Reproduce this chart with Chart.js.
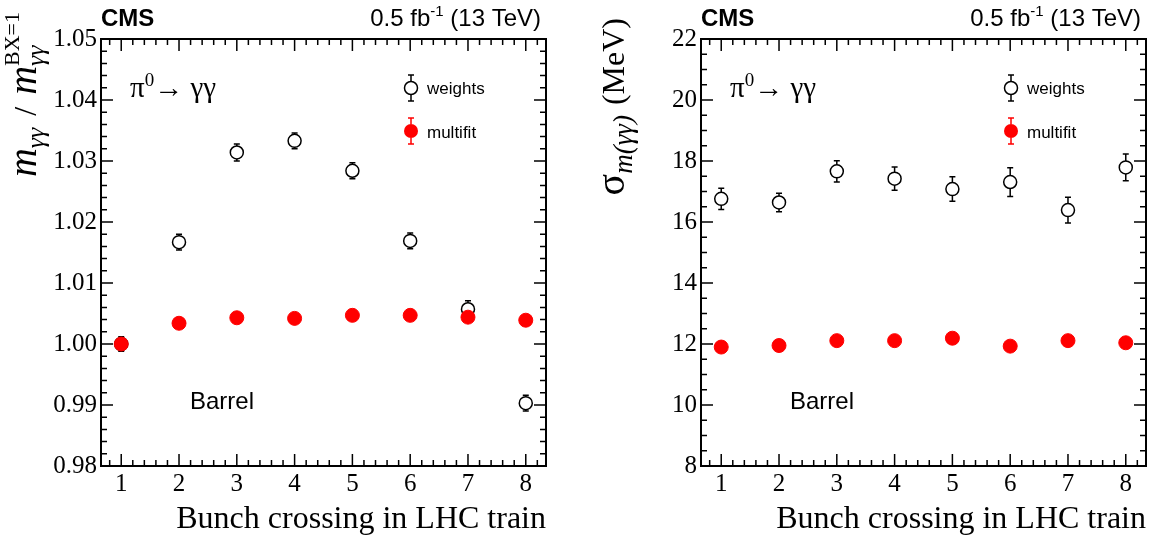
<!DOCTYPE html>
<html>
<head>
<meta charset="utf-8">
<title>Pi0 mass and resolution vs bunch crossing</title>
<script src="https://cdn.jsdelivr.net/npm/chart.js@4"></script>
<style>
    body { margin: 0; background: #fff; }
    #wrap { position: relative; width: 1158px; height: 537px; }
    canvas { position: absolute; top: 0; }
    #left { left: 0; }
    #right { left: 600px; }
</style>
</head>
<body>
<div id="wrap">
    <canvas id="left" width="600" height="537"></canvas>
    <canvas id="right" width="558" height="537"></canvas>
</div>
<script>
// DATA
const bunchCrossing = [1, 2, 3, 4, 5, 6, 7, 8];

// left: mass ratio m / m(BX=1)
const massWeights    = [1.0000, 1.0167, 1.0314, 1.0333, 1.0284, 1.0169, 1.0057, 0.9903];
const massWeightsErr = [0.0012, 0.0013, 0.0014, 0.0013, 0.0013, 0.0013, 0.0014, 0.0013];
const massMultifit    = [1.0000, 1.0034, 1.0043, 1.0042, 1.0047, 1.0047, 1.0044, 1.0039];
const massMultifitErr = [0.0005, 0.0005, 0.0005, 0.0005, 0.0005, 0.0005, 0.0005, 0.0005];

// right: resolution sigma (MeV)
const sigmaWeights    = [16.76, 16.64, 17.66, 17.42, 17.08, 17.31, 16.39, 17.79];
const sigmaWeightsErr = [0.35, 0.30, 0.35, 0.38, 0.40, 0.47, 0.42, 0.44];
const sigmaMultifit    = [11.90, 11.95, 12.11, 12.11, 12.19, 11.93, 12.11, 12.04];
const sigmaMultifitErr = [0.10, 0.10, 0.10, 0.10, 0.10, 0.10, 0.10, 0.10];

// TICKS
const xTicks = [1, 2, 3, 4, 5, 6, 7, 8];
const massTicks = [0.98, 0.99, 1.00, 1.01, 1.02, 1.03, 1.04, 1.05];
const sigmaTicks = [8, 10, 12, 14, 16, 18, 20, 22];

const SERIF = '"Liberation Serif", "Times New Roman", serif';
const SANS = '"Liberation Sans", Arial, sans-serif';

// draws a list of text runs one after the other along the baseline
function drawRuns(ctx, runs, x, y) {
    let cx = x;
    runs.forEach(r => {
        if (r.stack) {
            let w = 0;
            r.stack.forEach(s => {
                ctx.font = s.font;
                ctx.fillText(s.text, cx, y + (s.dy || 0));
                w = Math.max(w, ctx.measureText(s.text).width);
            });
            cx += w;
        } else {
            ctx.font = r.font;
            ctx.fillText(r.text, cx, y + (r.dy || 0));
            cx += ctx.measureText(r.text).width + (r.gap || 0);
        }
    });
    return cx - x;
}
function runsWidth(ctx, runs) {
    let w = 0;
    runs.forEach(r => {
        if (r.stack) {
            w += Math.max(...r.stack.map(s => { ctx.font = s.font; return ctx.measureText(s.text).width; }));
        } else {
            ctx.font = r.font;
            w += ctx.measureText(r.text).width + (r.gap || 0);
        }
    });
    return w;
}

function errorBar(ctx, x, yc, yTop, yBot, r, color) {
    ctx.save();
    ctx.strokeStyle = color;
    ctx.lineWidth = 1.5;
    ctx.beginPath();
    if (yc - yTop > r) { ctx.moveTo(x, yc - r); ctx.lineTo(x, yTop); ctx.moveTo(x - 3, yTop); ctx.lineTo(x + 3, yTop); }
    if (yBot - yc > r) { ctx.moveTo(x, yc + r); ctx.lineTo(x, yBot); ctx.moveTo(x - 3, yBot); ctx.lineTo(x + 3, yBot); }
    ctx.stroke();
    ctx.restore();
}

const rootStyle = {
    id: 'rootStyle',
    beforeDatasetsDraw(chart, args, opts) {
        const ctx = chart.ctx;
        const xs = chart.scales.x, ys = chart.scales.y;
        chart.data.datasets.forEach((ds, i) => {
            const vals = opts.values[i], errs = opts.errors[i];
            bunchCrossing.forEach((b, j) => {
                const px = xs.getPixelForValue(b);
                errorBar(ctx, px, ys.getPixelForValue(vals[j]),
                    ys.getPixelForValue(vals[j] + errs[j]),
                    ys.getPixelForValue(vals[j] - errs[j]),
                    ds.pointRadius, ds.pointBorderColor);
            });
        });
    },
    afterDraw(chart, args, opts) {
        const ctx = chart.ctx;
        const a = chart.chartArea;
        const xs = chart.scales.x, ys = chart.scales.y;
        ctx.save();
        ctx.strokeStyle = '#000';
        // ticks on all four sides
        ctx.lineWidth = 1.5;
        ctx.beginPath();
        for (let v = 0.8; v < 8.35; v += 0.2) {
            const px = xs.getPixelForValue(v);
            const major = Math.abs(v - Math.round(v)) < 1e-6;
            const len = major ? 12 : 6;
            ctx.moveTo(px, a.bottom); ctx.lineTo(px, a.bottom - len);
            ctx.moveTo(px, a.top); ctx.lineTo(px, a.top + len);
        }
        const yMin = ys.min, yMax = ys.max;
        for (let k = 0; ; k++) {
            const v = yMin + k * opts.yMinor;
            if (v > yMax + 1e-9) break;
            const py = ys.getPixelForValue(v);
            const major = k % opts.yDiv === 0;
            const len = major ? 12 : 6;
            ctx.moveTo(a.left, py); ctx.lineTo(a.left + len, py);
            ctx.moveTo(a.right, py); ctx.lineTo(a.right - len, py);
        }
        ctx.stroke();
        // frame
        ctx.lineWidth = 2;
        ctx.strokeRect(a.left, a.top, a.right - a.left, a.bottom - a.top);

        ctx.fillStyle = '#000';
        ctx.textBaseline = 'alphabetic';
        ctx.textAlign = 'left';
        // header
        ctx.font = 'bold 24px ' + SANS;
        ctx.fillText('CMS', a.left, 26);
        const lumi = [
            { text: '0.5 fb', font: '24px ' + SANS },
            { text: '-1', font: '15px ' + SANS, dy: -10 },
            { text: ' (13 TeV)', font: '24px ' + SANS }
        ];
        drawRuns(ctx, lumi, a.right - 5 - runsWidth(ctx, lumi), 26);

        // process label
        drawRuns(ctx, [
            { text: 'π', font: '29px ' + SERIF },
            { text: '0', font: '19px ' + SERIF, dy: -11 },
            { text: '→ γγ', font: '29px ' + SERIF }
        ], a.left + 29, 97);

        ctx.font = '24px ' + SANS;
        ctx.fillText('Barrel', a.left + 89, 409);

        // legend
        const lx = a.left + 310;
        ctx.beginPath();
        ctx.lineWidth = 1.5;
        ctx.arc(lx, 88, 6.5, 0, Math.PI * 2);
        ctx.stroke();
        errorBar(ctx, lx, 88, 75, 101, 6.5, '#000');
        errorBar(ctx, lx, 131, 118, 144, 7, '#ff0000');
        ctx.fillStyle = '#ff0000';
        ctx.beginPath();
        ctx.arc(lx, 131, 7, 0, Math.PI * 2);
        ctx.fill();
        ctx.fillStyle = '#000';
        ctx.font = '17px ' + SANS;
        ctx.fillText('weights', lx + 16, 94);
        ctx.fillText('multifit', lx + 16, 138);

        // x title
        ctx.font = '32px ' + SERIF;
        ctx.textAlign = 'right';
        ctx.fillText('Bunch crossing in LHC train', a.right, 528);

        // y title, rotated, ending near the top
        ctx.textAlign = 'left';
        const runs = opts.yTitle;
        const w = runsWidth(ctx, runs);
        ctx.translate(opts.yTitleX, opts.yTitleEnd + w);
        ctx.rotate(-Math.PI / 2);
        drawRuns(ctx, runs, 0, 0);
        ctx.restore();
    }
};

function makePanel(id, cfg) {
    new Chart(document.getElementById(id), {
        type: 'scatter',
        data: {
            datasets: [
                {
                    label: 'multifit',
                    data: bunchCrossing.map((b, j) => ({ x: b, y: cfg.multifit[j] })),
                    pointRadius: 7,
                    pointBackgroundColor: '#ff0000',
                    pointBorderColor: '#ff0000',
                    pointBorderWidth: 1,
                    order: 0
                },
                {
                    label: 'weights',
                    data: bunchCrossing.map((b, j) => ({ x: b, y: cfg.weights[j] })),
                    pointRadius: 6.5,
                    pointBackgroundColor: 'rgba(0,0,0,0)',
                    pointBorderColor: '#000000',
                    pointBorderWidth: 1.5,
                    order: 1
                }
            ]
        },
        options: {
            responsive: false,
            animation: false,
            devicePixelRatio: 1,
            layout: { padding: { left: 0, top: 39, right: cfg.padRight, bottom: 0 } },
            plugins: {
                legend: { display: false },
                tooltip: { enabled: false },
                rootStyle: {
                    values: [cfg.multifit, cfg.weights],
                    errors: [cfg.multifitErr, cfg.weightsErr],
                    yMinor: cfg.yMinor,
                    yDiv: cfg.yDiv,
                    yTitle: cfg.yTitle,
                    yTitleX: cfg.yTitleX,
                    yTitleEnd: cfg.yTitleEnd
                }
            },
            scales: {
                x: {
                    type: 'linear',
                    min: 0.65,
                    max: 8.35,
                    afterBuildTicks: s => { s.ticks = xTicks.map(v => ({ value: v })); },
                    afterFit: s => { s.height = 71; },
                    grid: { display: false, drawTicks: false },
                    border: { display: false },
                    ticks: { color: '#000', padding: 3, font: { family: SERIF, size: 25 } }
                },
                y: {
                    min: cfg.yTicks[0],
                    max: cfg.yTicks[cfg.yTicks.length - 1],
                    afterBuildTicks: s => { s.ticks = cfg.yTicks.map(v => ({ value: v })); },
                    afterFit: s => { s.width = 101; },
                    grid: { display: false, drawTicks: false },
                    border: { display: false },
                    ticks: {
                        color: '#000', padding: 4, font: { family: SERIF, size: 25 },
                        callback: v => cfg.fmt(v)
                    }
                }
            }
        },
        plugins: [rootStyle]
    });
}

makePanel('left', {
    weights: massWeights, weightsErr: massWeightsErr,
    multifit: massMultifit, multifitErr: massMultifitErr,
    yTicks: massTicks, yMinor: 0.002, yDiv: 5, padRight: 54,
    fmt: v => v.toFixed(2),
    yTitleX: 36, yTitleEnd: 12,
    yTitle: [
        { text: 'm', font: 'italic 40px ' + SERIF },
        { text: 'γγ', font: 'italic 26px ' + SERIF, dy: 8, gap: 12 },
        { text: '/', font: '32px ' + SERIF, gap: 12 },
        { text: 'm', font: 'italic 40px ' + SERIF },
        { stack: [
            { text: 'γγ', font: 'italic 26px ' + SERIF, dy: 8 },
            { text: 'BX=1', font: '22px ' + SERIF, dy: -17 }
        ] }
    ]
});

makePanel('right', {
    weights: sigmaWeights, weightsErr: sigmaWeightsErr,
    multifit: sigmaMultifit, multifitErr: sigmaMultifitErr,
    yTicks: sigmaTicks, yMinor: 0.5, yDiv: 4, padRight: 12,
    fmt: v => String(v),
    yTitleX: 24, yTitleEnd: 18,
    yTitle: [
        { text: 'σ', font: '40px ' + SERIF },
        { text: 'm(γγ)', font: 'italic 27px ' + SERIF, dy: 8, gap: 10 },
        { text: '(MeV)', font: '32px ' + SERIF }
    ]
});
</script>
</body>
</html>
